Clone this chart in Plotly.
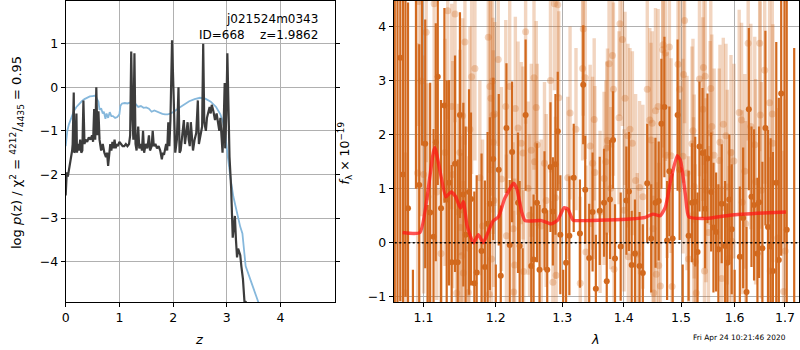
import numpy as np
import plotly.graph_objects as go

# ---------------- left panel: p(z) ----------------
z_pz = [0.00, 0.02, 0.04, 0.06, 0.08, 0.10, 0.12, 0.13, 0.15, 0.16, 0.18, 0.20, 0.21, 0.23, 0.25, 0.27,
        0.29, 0.31, 0.33, 0.35, 0.37, 0.40, 0.43, 0.46, 0.49, 0.51, 0.53, 0.55, 0.57, 0.59, 0.61, 0.63,
        0.66, 0.69, 0.72, 0.75, 0.77, 0.79, 0.81, 0.83, 0.85, 0.87, 0.89, 0.91, 0.93, 0.95, 0.97, 1.00,
        1.03, 1.06, 1.09, 1.12, 1.15, 1.18, 1.20, 1.22, 1.24, 1.26, 1.28, 1.30, 1.32, 1.35, 1.37, 1.40,
        1.42, 1.44, 1.46, 1.49, 1.52, 1.55, 1.57, 1.60, 1.62, 1.64, 1.67, 1.70, 1.73, 1.76, 1.79, 1.81,
        1.83, 1.85, 1.87, 1.89, 1.91, 1.93, 1.95, 1.98, 2.01, 2.04, 2.07, 2.10, 2.12, 2.14, 2.17, 2.20,
        2.22, 2.25, 2.27, 2.29, 2.31, 2.33, 2.35, 2.37, 2.40, 2.43, 2.46, 2.48, 2.51, 2.54, 2.56, 2.58,
        2.61, 2.63, 2.66, 2.68, 2.70, 2.72, 2.75, 2.78, 2.81, 2.84, 2.86, 2.88, 2.90, 2.92, 2.94, 2.96,
        2.97, 2.99, 3.01, 3.03, 3.05, 3.08, 3.10, 3.11, 3.13, 3.15, 3.17, 3.19, 3.21, 3.23, 3.25, 3.27,
        3.30, 3.33, 3.35, 3.37]
logp = [-2.48, -1.95, -2.05, -1.90, -1.80, -1.62, -1.45, -1.30, -0.12, -1.50, -1.45, -0.60, -1.50, -1.30, -1.45, -1.20,
        -1.50, -1.45, -0.30, -1.30, -1.20, -1.25, -1.15, -1.20, -1.10, -1.25, -0.50, -1.20, 0.00, -1.10, -0.55, -1.20,
        -1.45, -1.30, -1.50, -1.60, -1.50, -1.80, -1.55, -1.30, -1.45, -1.25, -1.40, -1.20, -1.40, -1.30, -1.35, -1.25,
        -1.30, -1.35, -1.35, -1.30, -1.35, -1.30, -1.10, 0.82, -0.60, -1.20, 0.78, -1.30, -1.45, -0.90, -1.40, -1.30,
        -1.45, -1.00, -1.50, -1.30, -1.40, -1.10, -1.45, -1.35, -1.00, -1.35, -1.30, -1.40, -1.35, -1.45, -1.65, -1.50,
        -1.55, -1.40, -1.30, -1.45, -0.80, -1.35, -0.75, 1.08, -0.60, -1.50, -1.20, 0.00, -1.50, -1.45, -1.10, -0.75,
        -1.30, -1.00, -0.80, -1.20, -1.35, -0.80, -1.10, -1.45, -1.20, -1.05, -0.30, -1.30, -1.10, -0.90, 1.00, -0.80,
        -1.00, -0.70, -0.55, -0.45, -0.60, -0.40, -0.55, -0.75, -0.60, -0.90, -1.00, -0.70, -1.20, -1.50, -0.90, 0.10,
        -1.40, -0.60, 0.78, -0.40, -1.60, -2.30, -3.10, -3.45, -3.20, -2.95, -3.50, -3.90, -3.70, -3.80, -3.85, -4.10,
        -4.40, -4.95, -4.90, -5.30]

z_chi = [0.00, 0.03, 0.06, 0.10, 0.15, 0.20, 0.25, 0.30, 0.35, 0.40, 0.45, 0.50, 0.55, 0.58, 0.61, 0.63,
         0.66, 0.69, 0.71, 0.74, 0.76, 0.79, 0.82, 0.85, 0.88, 0.92, 0.96, 1.00, 1.02, 1.05, 1.10, 1.15,
         1.20, 1.25, 1.30, 1.35, 1.40, 1.45, 1.50, 1.55, 1.60, 1.65, 1.70, 1.75, 1.80, 1.85, 1.90, 1.95,
         2.00, 2.10, 2.20, 2.30, 2.40, 2.50, 2.60, 2.70, 2.80, 2.88, 2.93, 2.97, 3.00, 3.03, 3.07, 3.12,
         3.18, 3.25, 3.29, 3.32, 3.35, 3.45, 3.55, 3.65]
chi_val = [-1.35, -1.00, -0.85, -0.70, -0.55, -0.45, -0.38, -0.32, -0.27, -0.23, -0.21, -0.20, -0.19, -0.26, -0.33, -0.52,
           -0.48, -0.60, -0.56, -0.72, -0.60, -0.70, -0.57, -0.66, -0.66, -0.70, -0.68, -0.62, -0.42, -0.37, -0.36, -0.37,
           -0.35, -0.42, -0.38, -0.45, -0.43, -0.47, -0.46, -0.49, -0.56, -0.53, -0.56, -0.58, -0.61, -0.62, -0.62, -0.60,
           -0.57, -0.48, -0.40, -0.32, -0.27, -0.24, -0.26, -0.33, -0.45, -0.62, -0.80, -1.05, -1.40, -1.75, -2.10, -2.50,
           -2.85, -3.20, -3.35, -3.70, -4.10, -4.45, -4.80, -5.15]

# ---------------- right panel: spectrum ----------------
wave_a = [1.0625, 1.0660, 1.0696, 1.0731, 1.0763, 1.0796, 1.0860, 1.0900, 1.0943, 1.0980, 1.1022, 1.1055,
          1.1088, 1.1133, 1.1163, 1.1190, 1.1234, 1.1280, 1.1311, 1.1343, 1.1379, 1.1425, 1.1462, 1.1493,
          1.1540, 1.1572, 1.1619, 1.1647, 1.1694, 1.1727, 1.1796, 1.1843, 1.1882, 1.1915, 1.1963, 1.2000,
          1.2043, 1.2072, 1.2155, 1.2203, 1.2238, 1.2326, 1.2350, 1.2395, 1.2439, 1.2524, 1.2559, 1.2610,
          1.2649, 1.2725, 1.2767, 1.2817, 1.2854, 1.2894, 1.2930, 1.2970, 1.3015, 1.3060, 1.3112, 1.3181,
          1.3280, 1.3333, 1.3365, 1.3429, 1.3484, 1.3537, 1.3601, 1.3671, 1.3716, 1.3770, 1.3820, 1.3853,
          1.3948, 1.4044, 1.4088, 1.4134, 1.4190, 1.4269, 1.4325, 1.4401, 1.4470, 1.4545, 1.4602, 1.4649,
          1.4702, 1.4750, 1.4791, 1.4849, 1.4938, 1.4974, 1.5030, 1.5137, 1.5199, 1.5258, 1.5301, 1.5337,
          1.5393, 1.5442, 1.5485, 1.5554, 1.5597, 1.5647, 1.5690, 1.5753, 1.5816, 1.5860, 1.5898, 1.5944,
          1.6000, 1.6101, 1.6165, 1.6231, 1.6276, 1.6328, 1.6379, 1.6446, 1.6477, 1.6544, 1.6604, 1.6656,
          1.6709, 1.6755, 1.6823, 1.6875, 1.6923, 1.6990, 1.7036, 1.7190]
flux_a = [5.50, -2.00, 3.42, 1.26, 5.00, 0.64, -2.00, 5.00, 1.07, 4.80, 1.83, -1.50,
          0.56, 0.11, 1.86, 3.07, 0.64, 2.54, 0.80, 1.11, -0.36, 1.46, -0.36, 2.36,
          0.89, 0.15, 0.94, 0.81, -0.75, -0.55, -0.15, -0.45, 0.35, 0.72, 1.55, -1.60,
          1.35, -0.61, 2.12, -0.04, 1.68, 0.74, -0.06, -1.50, 2.36, -0.43, -0.31, 0.74,
          -0.50, 0.59, -0.50, 1.40, 0.58, 1.45, 2.06, 0.15, -1.50, -0.37, 0.13, 1.20,
          0.17, 2.92, 0.98, -0.28, 0.57, -0.85, 0.59, 0.74, -0.71, 0.80, 1.90, -0.29,
          -0.07, 0.78, 0.95, -0.41, -0.20, -0.43, -0.56, 1.10, 0.08, 0.74, 0.77, 2.20,
          2.51, 0.04, 1.32, 0.08, 2.36, 1.35, -1.40, 0.13, 0.74, 0.76, -0.17, 1.78,
          1.66, 0.63, 1.56, 0.94, 0.28, 0.20, -0.12, 0.72, -0.06, -0.37, 0.80, 0.25,
          -1.50, -0.26, 0.46, -0.91, 2.47, 0.85, 0.70, -0.20, 0.75, -0.10, 2.12, 0.29,
          -0.07, -0.52, 1.11, -0.32, 2.76, 5.00, 0.24, -1.60]
err_a = [7.0, 7.0, 4.5, 4.0, 6.0, 3.8, 1.5, 4.0, 2.6, 3.0, 2.3, 2.2,
         2.4, 2.0, 2.2, 2.0, 2.0, 1.8, 2.2, 1.9, 1.8, 2.0, 1.9, 1.9,
         1.7, 2.0, 1.9, 1.6, 1.7, 1.8, 1.8, 1.6, 1.7, 1.6, 1.5, 1.2,
         1.4, 1.3, 1.2, 1.2, 1.3, 1.3, 1.2, 1.4, 1.4, 1.1, 1.2, 1.1,
         1.2, 1.1, 1.1, 1.2, 1.0, 1.3, 1.1, 1.1, 1.0, 1.0, 1.1, 1.0,
         1.0, 1.1, 1.0, 1.0, 1.1, 1.0, 1.0, 1.0, 0.9, 1.1, 0.9, 1.0,
         1.0, 1.0, 1.1, 1.0, 1.0, 1.0, 0.9, 1.1, 1.0, 1.2, 1.1, 1.2,
         1.3, 1.1, 1.2, 1.2, 1.4, 1.3, 1.0, 1.2, 1.1, 1.2, 1.1, 1.2,
         1.2, 1.1, 1.2, 1.1, 1.2, 1.1, 1.2, 1.1, 1.2, 1.1, 1.2, 1.2,
         1.0, 1.3, 1.3, 1.2, 1.5, 1.3, 1.4, 1.4, 1.4, 1.6, 1.8, 1.8,
         2.0, 2.2, 2.6, 3.0, 3.0, 5.0, 4.5, 5.2]

wave_b = [1.0761, 1.0922, 1.0935, 1.0969, 1.1001, 1.1035, 1.1058, 1.1141, 1.1177, 1.1234, 1.1288, 1.1325,
          1.1380, 1.1393, 1.1425, 1.1448, 1.1471, 1.1493, 1.1500, 1.1516, 1.1530, 1.1540, 1.1562, 1.1610,
          1.1618, 1.1632, 1.1656, 1.1702, 1.1772, 1.1810, 1.1892, 1.1906, 1.1915, 1.1929, 1.1939, 1.1953,
          1.1960, 1.1963, 1.1972, 1.1986, 1.2035, 1.2082, 1.2145, 1.2155, 1.2203, 1.2253, 1.2262, 1.2276,
          1.2286, 1.2326, 1.2374, 1.2400, 1.2409, 1.2439, 1.2475, 1.2499, 1.2524, 1.2565, 1.2574, 1.2599,
          1.2614, 1.2674, 1.2725, 1.2751, 1.2817, 1.2854, 1.2878, 1.2894, 1.2904, 1.2930, 1.2946, 1.3087,
          1.3123, 1.3217, 1.3285, 1.3323, 1.3333, 1.3365, 1.3376, 1.3445, 1.3484, 1.3510, 1.3521, 1.3606,
          1.3672, 1.3700, 1.3716, 1.3728, 1.3754, 1.3783, 1.3811, 1.3827, 1.3837, 1.3920, 1.3936, 1.3977,
          1.4004, 1.4021, 1.4071, 1.4078, 1.4105, 1.4146, 1.4201, 1.4230, 1.4269, 1.4326, 1.4402, 1.4446,
          1.4467, 1.4488, 1.4502, 1.4515, 1.4545, 1.4559, 1.4591, 1.4602, 1.4631, 1.4672, 1.4679, 1.4720,
          1.4750, 1.4791, 1.4821, 1.4839, 1.4945, 1.4974, 1.5035, 1.5046, 1.5064, 1.5108, 1.5137, 1.5199,
          1.5217, 1.5228, 1.5240, 1.5258, 1.5277, 1.5336, 1.5399, 1.5410, 1.5429, 1.5442, 1.5457, 1.5503,
          1.5534, 1.5547, 1.5566, 1.5609, 1.5707, 1.5720, 1.5752, 1.5783, 1.5834, 1.5859, 1.5897, 1.5930,
          1.5945, 1.5987, 1.6088, 1.6134, 1.6146, 1.6198, 1.6214, 1.6263, 1.6315, 1.6393, 1.6409, 1.6490,
          1.6502, 1.6524, 1.6590, 1.6689, 1.6701, 1.6743, 1.6755, 1.6855, 1.6971, 1.7005]
flux_b = [-0.93, 1.29, 4.46, 2.99, 1.26, 3.89, 0.85, 4.42, 0.94, -0.20, 1.67, 4.29,
          2.52, 1.26, 4.23, -0.93, 0.57, 1.67, 0.28, -0.24, 2.35, -0.56, 3.71, -0.92,
          -0.10, 2.10, 3.07, 3.22, 1.20, 0.31, 3.80, -0.95, 2.89, 2.67, -0.30, 2.99,
          2.36, 1.86, 0.78, 2.38, 3.39, 1.18, 2.52, 0.13, 2.89, 0.26, -0.91, -0.41,
          2.48, 2.12, 1.84, 1.66, -0.53, 3.90, 1.01, 0.51, 1.71, 3.05, 1.50, 2.50,
          1.81, 0.31, 1.47, 0.78, 3.00, -0.73, 4.42, 0.83, -0.60, 4.40, 2.68, 1.20,
          2.40, 2.10, -0.75, 3.22, 3.95, 3.05, -0.17, 1.79, 1.47, 2.28, 1.30, 0.57,
          1.19, 1.50, 1.75, 1.89, 3.31, 1.01, 3.46, 2.84, -0.49, 2.31, 4.05, 3.76,
          0.60, 2.67, 1.98, -0.26, 2.10, 1.84, 1.15, -0.21, 1.02, 0.85, 2.84, 2.27,
          1.90, 2.21, 0.26, -0.93, 2.44, -0.58, 2.52, -0.42, -0.80, 3.57, 3.66, 3.51,
          1.62, 3.62, 1.61, -0.81, 3.30, 2.84, 1.60, 3.11, 4.11, 1.29, -0.30, 1.83,
          2.07, 0.52, 1.04, -0.35, -0.93, 3.03, 2.47, 3.24, -0.52, 3.08, 0.97, 0.19,
          2.03, 2.85, 2.15, 1.62, 1.52, 1.86, -0.66, 2.19, 1.98, 1.03, -0.28, 1.67,
          0.03, 1.51, 2.41, 2.27, 0.75, 1.32, 0.35, 3.69, 2.15, 1.81, 1.13, 3.69,
          2.36, 0.97, 3.19, 2.59, -0.52, 2.38, 1.84, 0.09, -0.90, -0.15]
err_b = [2.6, 2.4, 2.3, 2.5, 2.2, 2.4, 2.1, 2.3, 2.0, 2.2, 2.1, 2.0,
         1.9, 2.1, 2.0, 1.8, 2.0, 1.9, 1.7, 1.9, 1.8, 1.7, 1.9, 1.8,
         1.7, 1.9, 1.8, 1.7, 1.8, 1.6, 1.8, 1.7, 1.6, 1.8, 1.7, 1.6,
         1.8, 1.7, 1.6, 1.7, 1.6, 1.7, 1.6, 1.5, 1.7, 1.6, 1.5, 1.6,
         1.7, 1.6, 1.5, 1.6, 1.5, 1.7, 1.6, 1.5, 1.6, 1.7, 1.5, 1.6,
         1.5, 1.6, 1.5, 1.6, 1.7, 1.5, 1.6, 1.5, 1.6, 1.7, 1.6, 1.5,
         1.6, 1.5, 1.6, 1.7, 1.6, 1.5, 1.6, 1.5, 1.6, 1.5, 1.6, 1.5,
         1.6, 1.5, 1.6, 1.7, 1.6, 1.5, 1.7, 1.6, 1.5, 1.6, 1.7, 1.6,
         1.5, 1.6, 1.7, 1.6, 1.5, 1.7, 1.6, 1.5, 1.6, 1.7, 1.8, 1.7,
         1.8, 1.7, 1.6, 1.8, 1.9, 1.7, 1.8, 1.9, 1.8, 2.0, 1.9, 2.0,
         1.9, 2.0, 1.8, 1.9, 2.0, 1.9, 1.8, 2.0, 1.9, 1.8, 1.9, 1.8,
         1.7, 1.8, 1.7, 1.8, 1.7, 1.8, 1.7, 1.8, 1.7, 1.8, 1.7, 1.6,
         1.7, 1.8, 1.7, 1.6, 1.7, 1.8, 1.7, 1.6, 1.7, 1.8, 1.7, 1.8,
         1.7, 1.8, 1.9, 1.8, 1.7, 1.8, 1.9, 1.8, 1.9, 2.0, 1.9, 2.0,
         2.1, 2.0, 2.1, 2.2, 2.1, 2.3, 2.2, 2.4, 2.6, 2.8]

wave_model = [1.0726, 1.0953, 1.1148, 1.1300, 1.1370, 1.1430, 1.1500, 1.1540, 1.1590, 1.1680, 1.1750,
              1.1820, 1.1890, 1.1960, 1.2040, 1.2130, 1.2260, 1.2310, 1.2380, 1.2430, 1.2680, 1.2830,
              1.2930, 1.3030, 1.3090, 1.3170, 1.3350, 1.4100, 1.4370, 1.4500, 1.4630, 1.4720, 1.4810,
              1.4930, 1.4990, 1.5080, 1.5140, 1.5470, 1.5910, 1.6560, 1.7020]
flux_model = [0.19, 0.19, 1.76, 0.85, 0.94, 0.86, 0.64, 0.76, 0.33, 0.00, 0.15,
              0.00, 0.20, 0.40, 0.48, 0.82, 1.10, 0.99, 0.57, 0.41, 0.41, 0.35,
              0.42, 0.65, 0.62, 0.42, 0.41, 0.44, 0.47, 0.53, 0.50, 0.66, 1.13,
              1.61, 1.52, 0.88, 0.48, 0.45, 0.51, 0.55, 0.57]

z_ticks = [0, 1, 2, 3, 4]
logp_ticks = [-4, -3, -2, -1, 0, 1]
wave_ticks = [1.1, 1.2, 1.3, 1.4, 1.5, 1.6, 1.7]
flux_ticks = [-1, 0, 1, 2, 3, 4]

ORANGE = "#d2691e"
ORANGE_L = "rgba(210,105,30,0.28)"
FONT = "DejaVu Sans"

fig = go.Figure()

fig.add_trace(go.Scatter(x=z_chi, y=chi_val, mode="lines", xaxis="x", yaxis="y",
                         line=dict(color="#86b8dc", width=1.8), hoverinfo="skip"))
fig.add_trace(go.Scatter(x=z_pz, y=logp, mode="lines", xaxis="x", yaxis="y",
                         line=dict(color="#3c3c3c", width=2.2), hoverinfo="skip"))

fig.add_trace(go.Scatter(x=wave_b, y=flux_b, mode="markers", xaxis="x2", yaxis="y2",
                         marker=dict(color=ORANGE_L, size=7, line=dict(width=0)),
                         error_y=dict(type="data", array=err_b, visible=True, color=ORANGE_L,
                                      thickness=3.4, width=0)))
fig.add_trace(go.Scatter(x=wave_a, y=flux_a, mode="markers", xaxis="x2", yaxis="y2",
                         marker=dict(color=ORANGE, size=6, line=dict(width=0)),
                         error_y=dict(type="data", array=err_a, visible=True, color=ORANGE,
                                      thickness=2.2, width=0)))
fig.add_trace(go.Scatter(x=wave_model, y=flux_model, mode="lines", xaxis="x2", yaxis="y2",
                         line=dict(color="rgba(255,20,20,0.72)", width=3.4, shape="spline",
                                   smoothing=0.5)))
fig.add_trace(go.Scatter(x=[wave_a[0], wave_a[-1] + 0.02], y=[0, 0], mode="lines",
                         xaxis="x2", yaxis="y2",
                         line=dict(color="black", width=1.6, dash="2px,2.5px")))

axis_common = dict(showline=True, linecolor="black", linewidth=1, mirror=True,
                   ticks="outside", ticklen=4, tickcolor="black", tickwidth=1,
                   showgrid=True, gridcolor="#b0b0b0", gridwidth=1, zeroline=False,
                   tickfont=dict(family=FONT, size=12.5, color="black"))

ydom = [46 / 350, 349 / 350]
fig.update_layout(
    width=800, height=350, margin=dict(l=0, r=0, t=0, b=0),
    paper_bgcolor="white", plot_bgcolor="white", showlegend=False,
    xaxis=dict(axis_common, domain=[62 / 800, 333 / 800], range=[0, 5.02],
               tickvals=z_ticks, anchor="y"),
    yaxis=dict(axis_common, domain=ydom, range=[-4.93, 1.98], tickvals=logp_ticks,
               anchor="x", mirror="ticks", tickformat="d"),
    xaxis2=dict(axis_common, domain=[391.7 / 800, 799 / 800], type="log",
                range=[np.log10(1.0612), np.log10(1.729)], tickvals=wave_ticks,
                ticktext=[f"{w:.1f}" for w in wave_ticks], anchor="y2"),
    yaxis2=dict(axis_common, domain=ydom, range=[-1.1, 4.47], tickvals=flux_ticks,
                anchor="x2"),
)

ann = []
ann.append(dict(text="j021524m0343", x=318 / 800, y=1 - 19.5 / 350, xanchor="right",
                yanchor="middle", showarrow=False, xref="paper", yref="paper",
                font=dict(family=FONT, size=12, color="black")))
ann.append(dict(text="ID=668\u00a0\u00a0\u00a0\u00a0z=1.9862", x=318 / 800, y=1 - 35 / 350,
                xanchor="right", yanchor="middle", showarrow=False, xref="paper", yref="paper",
                font=dict(family=FONT, size=12, color="black")))
ann.append(dict(text="<i>z</i>", x=196 / 800, y=1 - 341 / 350, xanchor="center", yanchor="middle",
                showarrow=False, xref="paper", yref="paper",
                font=dict(family=FONT, size=13, color="black")))
ann.append(dict(text="<i>λ</i>", x=594 / 800, y=1 - 341 / 350, xanchor="center", yanchor="middle",
                showarrow=False, xref="paper", yref="paper",
                font=dict(family=FONT, size=13, color="black")))
ann.append(dict(text="log <i>p</i>(z) / χ<sup>2</sup> = <sup>4212</sup>/<sub>4435</sub> = 0.95",
                x=13 / 800, y=1 - 153 / 350, xanchor="center", yanchor="middle", textangle=-90,
                showarrow=False, xref="paper", yref="paper",
                font=dict(family=FONT, size=13, color="black")))
ann.append(dict(text="<i>f</i><sub>λ</sub> × 10<sup>−19</sup>",
                x=343 / 800, y=1 - 154 / 350, xanchor="center", yanchor="middle", textangle=-90,
                showarrow=False, xref="paper", yref="paper",
                font=dict(family=FONT, size=12.5, color="black")))
ann.append(dict(text="Fri Apr 24 10:21:46 2020", x=788 / 800, y=1 - 339 / 350, xanchor="right",
                yanchor="middle", showarrow=False, xref="paper", yref="paper",
                font=dict(family=FONT, size=7.4, color="black")))
fig.update_layout(annotations=ann)

fig.write_html("out.html", config={"displayModeBar": False},
               post_script="document.body.style.margin='0';document.body.style.padding='0';"
                           "document.body.style.overflow='hidden';")
